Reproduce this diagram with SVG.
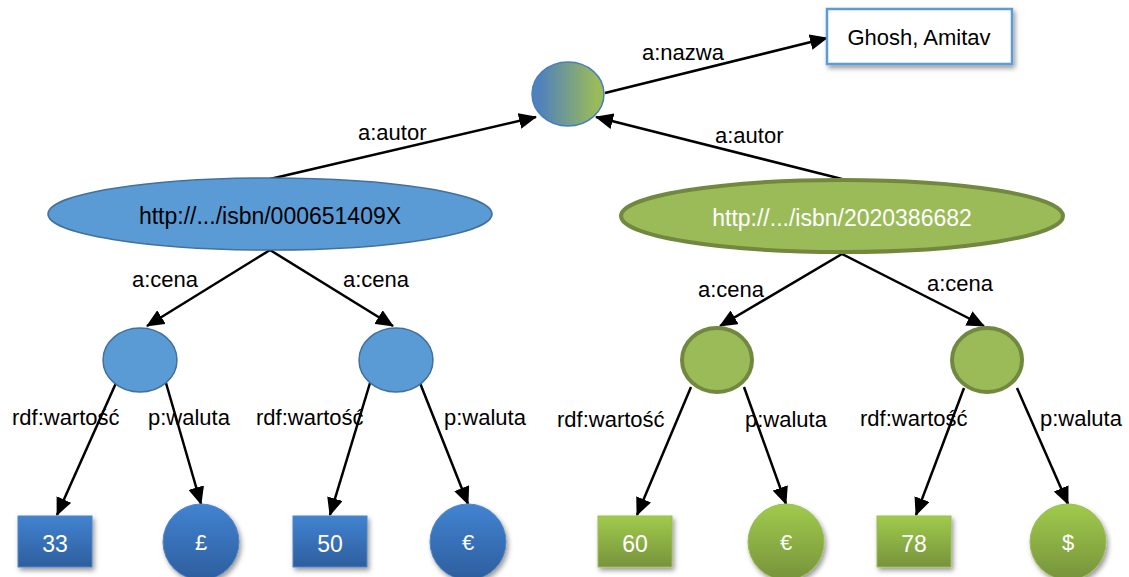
<svg xmlns="http://www.w3.org/2000/svg" width="1129" height="577" viewBox="0 0 1129 577">
<defs>
  <marker id="arr" markerUnits="userSpaceOnUse" markerWidth="18" markerHeight="16" viewBox="0 0 18 16" refX="17" refY="8" orient="auto">
    <path d="M0,0 L18,8 L0,16 z" fill="#000"/>
  </marker>
  <linearGradient id="topGrad" x1="0" y1="0" x2="1" y2="0">
    <stop offset="0.1" stop-color="#4F81BD"/>
    <stop offset="0.9" stop-color="#9BBB59"/>
  </linearGradient>
  <linearGradient id="blueGrad" x1="0" y1="0" x2="0" y2="1">
    <stop offset="0" stop-color="#4283D1"/>
    <stop offset="1" stop-color="#2D5E9E"/>
  </linearGradient>
  <linearGradient id="greenGrad" x1="0" y1="0" x2="0" y2="1">
    <stop offset="0" stop-color="#A0CB4B"/>
    <stop offset="1" stop-color="#77933C"/>
  </linearGradient>
  <filter id="shadow" x="-20%" y="-20%" width="150%" height="150%">
    <feDropShadow dx="2" dy="3" stdDeviation="2.5" flood-color="#000" flood-opacity="0.4"/>
  </filter>
</defs>
<style>
  text { font-family: "Liberation Sans", Arial, sans-serif; font-size: 22px; fill: #000; }
  .w { fill: #fff; }
  .mid { text-anchor: middle; }
  .big { font-size: 23px; }
  .edge { stroke: #000; stroke-width: 2.5; fill: none; marker-end: url(#arr); }
  .blueE { fill: #5B9BD5; stroke: #41719C; stroke-width: 1.5; }
  .greenE { fill: #9BBB59; stroke: #71893F; stroke-width: 4; }
  .blueB { fill: url(#blueGrad); stroke: #4F86C6; stroke-width: 1; filter: url(#shadow); }
  .greenB { fill: url(#greenGrad); stroke: #9BBB59; stroke-width: 1; filter: url(#shadow); }
</style>

<g id="connectors">
  <line class="edge" x1="605" y1="93" x2="827" y2="38"/>
  <line class="edge" x1="270" y1="179" x2="536" y2="117"/>
  <line class="edge" x1="842" y1="179" x2="596" y2="117"/>
  <line class="edge" x1="270" y1="250" x2="147" y2="326"/>
  <line class="edge" x1="270" y1="250" x2="393" y2="326"/>
  <line class="edge" x1="842" y1="254" x2="720" y2="326"/>
  <line class="edge" x1="842" y1="254" x2="984" y2="326"/>
  <line class="edge" x1="116" y1="383" x2="57" y2="515"/>
  <line class="edge" x1="166" y1="383" x2="201" y2="504"/>
  <line class="edge" x1="370" y1="383" x2="330" y2="515"/>
  <line class="edge" x1="420" y1="383" x2="468" y2="504"/>
  <line class="edge" x1="691" y1="387" x2="637" y2="515"/>
  <line class="edge" x1="744" y1="387" x2="786" y2="504"/>
  <line class="edge" x1="964" y1="388" x2="916" y2="515"/>
  <line class="edge" x1="1017" y1="388" x2="1068" y2="504"/>
  <text x="642" y="60">a:nazwa</text>
  <text x="358" y="140">a:autor</text>
  <text x="715" y="143">a:autor</text>
  <text x="132" y="287">a:cena</text>
  <text x="343" y="287">a:cena</text>
  <text x="698" y="297">a:cena</text>
  <text x="927" y="291">a:cena</text>
  <text x="12" y="425">rdf:wartość</text>
  <text x="148" y="425">p:waluta</text>
  <text x="256" y="425">rdf:wartość</text>
  <text x="444" y="425">p:waluta</text>
  <text x="557" y="427">rdf:wartość</text>
  <text x="745" y="427">p:waluta</text>
  <text x="860" y="426">rdf:wartość</text>
  <text x="1040" y="426">p:waluta</text>
</g>

<g id="n-top"><ellipse cx="568" cy="94" rx="36" ry="32" fill="url(#topGrad)" stroke="#4A7EBB" stroke-width="1.5"/></g>
<g id="n-name">
  <rect x="827" y="9" width="185" height="55" fill="#fff" stroke="#5B9BD5" stroke-width="2.5" filter="url(#shadow)"/>
  <text class="mid" x="919" y="45">Ghosh, Amitav</text>
</g>
<g id="n-book1">
  <ellipse class="blueE" cx="270" cy="214" rx="222" ry="36"/>
  <text class="mid big" x="270" y="224">http://.../isbn/000651409X</text>
</g>
<g id="n-book2">
  <ellipse class="greenE" cx="842" cy="216" rx="221" ry="36"/>
  <text class="mid w big" x="842" y="226">http://.../isbn/2020386682</text>
</g>
<g id="n-p1"><ellipse class="blueE" cx="140" cy="360" rx="37" ry="32"/></g>
<g id="n-p2"><ellipse class="blueE" cx="396" cy="360" rx="37" ry="32"/></g>
<g id="n-p3"><ellipse class="greenE" cx="717" cy="360" rx="35" ry="32"/></g>
<g id="n-p4"><ellipse class="greenE" cx="987" cy="360" rx="35" ry="32"/></g>

<g id="n-33"><rect class="blueB" x="18" y="516" width="74" height="51"/><text class="mid w big" x="55" y="552">33</text></g>
<g id="n-gbp"><circle class="blueB" cx="201" cy="542" r="38"/><text class="mid w" x="201" y="550">£</text></g>
<g id="n-50"><rect class="blueB" x="293" y="516" width="74" height="51"/><text class="mid w big" x="330" y="552">50</text></g>
<g id="n-eur1"><circle class="blueB" cx="468" cy="542" r="38"/><text class="mid w" x="468" y="550">€</text></g>
<g id="n-60"><rect class="greenB" x="598" y="516" width="74" height="51"/><text class="mid w big" x="635" y="552">60</text></g>
<g id="n-eur2"><circle class="greenB" cx="786" cy="542" r="38"/><text class="mid w" x="786" y="550">€</text></g>
<g id="n-78"><rect class="greenB" x="877" y="516" width="74" height="51"/><text class="mid w big" x="914" y="552">78</text></g>
<g id="n-usd"><circle class="greenB" cx="1068" cy="542" r="38"/><text class="mid w" x="1068" y="550">$</text></g>
</svg>
